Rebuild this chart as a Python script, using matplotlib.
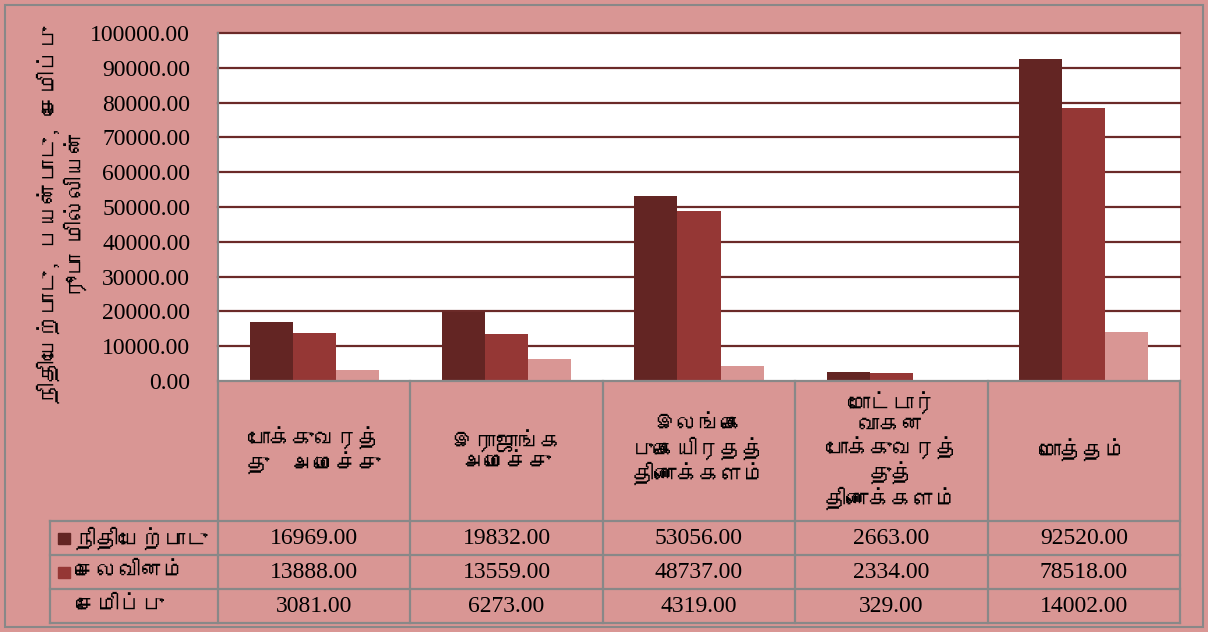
import matplotlib
matplotlib.use('Agg')
import matplotlib.pyplot as plt
from matplotlib import font_manager
from matplotlib.ft2font import FT2Font
from matplotlib.patches import Rectangle

# data
categories = [
    'போக்குவரத்\nது  அமைச்சு',
    'இராஜாங்க\nஅமைச்சு',
    'இலங்கை\nபுகையிரதத்\nதிணைக்களம்',
    'மோட்டார்\nவாகன\nபோக்குவரத்\nதுத்\nதிணைக்களம்',
    'மொத்தம்',
]
series_names = ['நிதியேற்பாடு', 'செலவினம்', 'சேமிப்பு']
allocation = [16969, 19832, 53056, 2663, 92520]
expenditure = [13888, 13559, 48737, 2334, 78518]
savings = [3081, 6273, 4319, 329, 14002]
y_ticks = [0, 10000, 20000, 30000, 40000, 50000, 60000, 70000, 80000, 90000, 100000]
y_label = 'நிதியேற்பாடு, பயன்பாடு, சேமிப்பு\nரூபா மில்லியன்'

BG = '#D99694'
COLORS = ['#632523', '#953735', '#D99694']
GRID = '#6B2A28'
LINE = '#888888'
W, H = 1208, 632


def find_tamil_font():
    '''return the name of an installed font with tamil glyphs, or None'''
    for f in font_manager.fontManager.ttflist:
        try:
            cmap = FT2Font(f.fname).get_charmap()
        except Exception:
            continue
        if 0x0BAA in cmap and 0x0BC7 in cmap:
            return f.name
    return None


tamil = find_tamil_font()
TAMIL = [tamil, 'DejaVu Sans'] if tamil else ['DejaVu Sans']
SERIF = ['Liberation Serif', 'DejaVu Serif']

fig = plt.figure(figsize=(W / 100, H / 100), dpi=100, facecolor=BG)

# plot area in pixels
ax_left, ax_right, ax_top, ax_bottom = 218, 1180, 33, 381
ax = fig.add_axes([ax_left / W, 1 - ax_bottom / H,
                   (ax_right - ax_left) / W, (ax_bottom - ax_top) / H])
ax.set_facecolor('white')

n = len(categories)
bw = 0.224
for j, vals in enumerate([allocation, expenditure, savings]):
    xs = [i + (j - 1) * bw for i in range(n)]
    ax.bar(xs, vals, width=bw, color=COLORS[j], zorder=3)

ax.set_xlim(-0.5, n - 0.5)
ax.set_ylim(0, 100000)
ax.set_yticks(y_ticks)
ax.set_yticklabels([f'{v:.2f}' for v in y_ticks], fontfamily=SERIF, fontsize=17)
ax.tick_params(axis='y', length=0, pad=20)
ax.set_xticks([])
for v in y_ticks[1:]:
    ax.axhline(v, color=GRID, lw=1.6, zorder=1, clip_on=False)
for s in ['top', 'right', 'bottom']:
    ax.spines[s].set_visible(False)
ax.spines['left'].set_color(LINE)
ax.spines['left'].set_linewidth(1.5)

# overlay in pixel coordinates for the data table
ov = fig.add_axes([0, 0, 1, 1], facecolor='none')
ov.set_xlim(0, W)
ov.set_ylim(H, 0)
ov.axis('off')

ov.add_patch(Rectangle((5, 5), W - 10, H - 10, fill=False, ec=LINE, lw=1.5))

col_w = (ax_right - ax_left) / n
header_bottom = 521
row_h = 34
rows_bottom = header_bottom + 3 * row_h
tab_left = 50

# horizontal lines
ov.plot([ax_left, ax_right], [ax_bottom, ax_bottom], color=LINE, lw=1.6)
for r in range(4):
    y = header_bottom + r * row_h
    ov.plot([tab_left, ax_right], [y, y], color=LINE, lw=1.6)
# vertical lines
for i in range(n + 1):
    x = ax_left + i * col_w
    ov.plot([x, x], [ax_bottom, rows_bottom], color=LINE, lw=1.6)
ov.plot([tab_left, tab_left], [header_bottom, rows_bottom], color=LINE, lw=1.6)

# category labels
for i, cat in enumerate(categories):
    ov.text(ax_left + (i + 0.5) * col_w, (ax_bottom + header_bottom) / 2, cat,
            ha='center', va='center', multialignment='center',
            fontfamily=TAMIL, fontsize=16, linespacing=1.1)

# rows
for r, (name, vals) in enumerate(zip(series_names, [allocation, expenditure, savings])):
    yc = header_bottom + (r + 0.5) * row_h
    if r < 2:
        ov.add_patch(Rectangle((58, yc - 5.5), 12, 11, color=COLORS[r]))
    ov.text(75, yc, name, ha='left', va='center', fontfamily=TAMIL, fontsize=16)
    for i, v in enumerate(vals):
        ov.text(ax_left + (i + 0.5) * col_w, yc, f'{v:.2f}', ha='center',
                va='center', fontfamily=SERIF, fontsize=17)

# y axis title
ov.text(62, 215, y_label, rotation=90, ha='center', va='center',
        multialignment='center', fontfamily=TAMIL, fontsize=16,
        fontweight='bold', linespacing=1.2)

fig.savefig('out.png', dpi=100, facecolor=BG)
